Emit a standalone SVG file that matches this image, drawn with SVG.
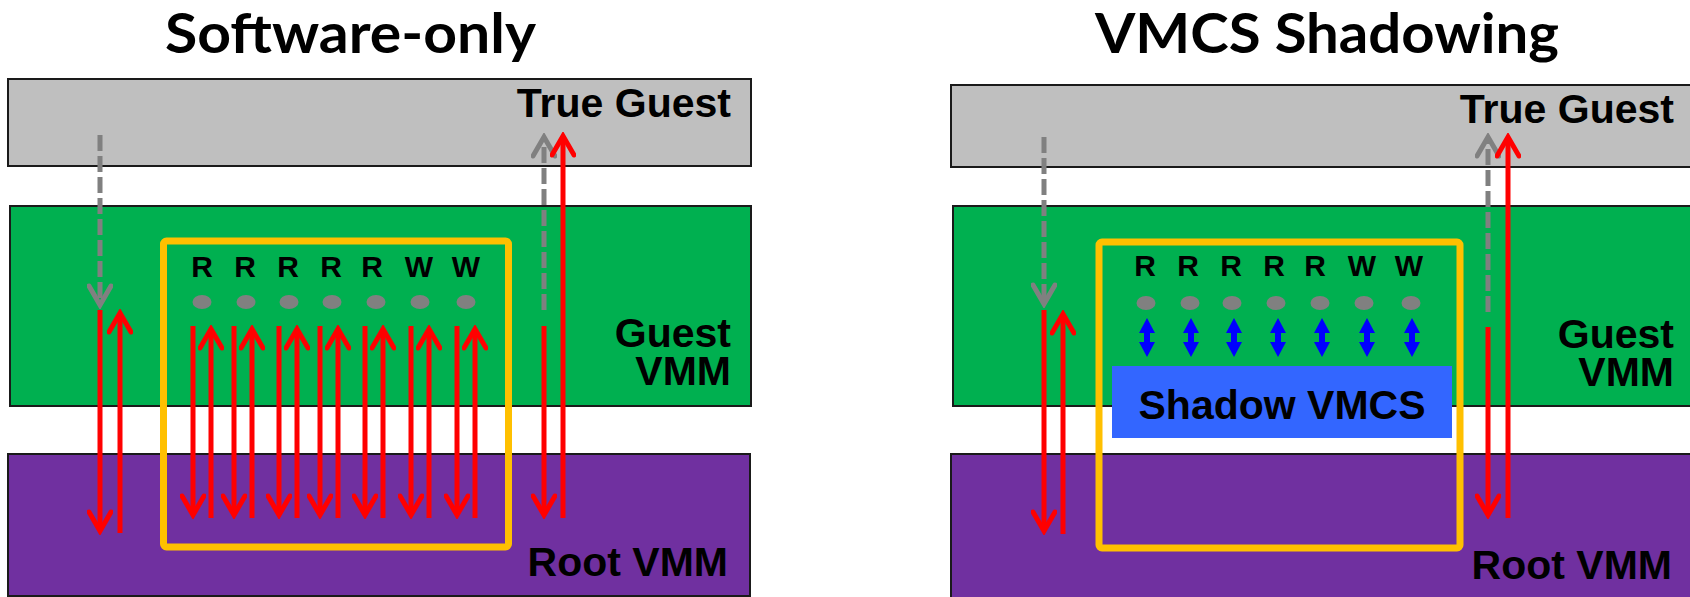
<svg xmlns="http://www.w3.org/2000/svg" width="1690" height="597" viewBox="0 0 1690 597">
<style>
.title{font-family:Lato,"Open Sans",sans-serif;font-weight:bold;font-size:55px;fill:#000}
.lbl{font-family:"Liberation Sans",Arial,sans-serif;font-weight:bold;font-size:41px;fill:#000}
.rw{font-family:"Liberation Sans",Arial,sans-serif;font-weight:bold;font-size:30px;fill:#000;text-anchor:middle}
.gray{fill:#BFBFBF;stroke:#1a1a1a;stroke-width:2}
.green{fill:#00B050;stroke:#1a1a1a;stroke-width:2}
.purple{fill:#7030A0;stroke:#1a1a1a;stroke-width:2}
.yel{fill:none;stroke:#FFC000;stroke-width:7}
.dot{fill:#808080}
.redh{stroke:#FF0000;stroke-width:5;fill:none;marker-end:url(#ar)}
.dash{stroke:#808080;stroke-width:5;fill:none;stroke-dasharray:16 5;marker-end:url(#ag)}
.blue{fill:#0000FF}
</style>
<defs>
<marker id="ar" markerUnits="userSpaceOnUse" viewBox="0 0 26 26" markerWidth="26" markerHeight="26" refX="22" refY="13" orient="auto">
<path d="M3,2 L22,13 L3,24" fill="none" stroke="#FF0000" stroke-width="5" stroke-linecap="round"/>
</marker>
<marker id="ag" markerUnits="userSpaceOnUse" viewBox="0 0 26 26" markerWidth="26" markerHeight="26" refX="22" refY="13" orient="auto">
<path d="M3,2 L22,13 L3,24" fill="none" stroke="#808080" stroke-width="5" stroke-linecap="round"/>
</marker>
<path id="dbl" d="M0,318 L-8,333 L-3,333 L-3,342 L-8,342 L0,357 L8,342 L3,342 L3,333 L8,333 Z"/>
</defs>

<g id="left-panel">
<text class="title" x="165" y="53" textLength="371" lengthAdjust="spacingAndGlyphs">Software-only</text>
<g id="left-true-guest">
<rect class="gray" x="8" y="79" width="743" height="87"/>
<text class="lbl" x="731" y="117" text-anchor="end">True Guest</text>
</g>
<g id="left-guest-vmm">
<rect class="green" x="10" y="206" width="741" height="200"/>
<text class="lbl" text-anchor="end"><tspan x="731" y="347">Guest</tspan><tspan x="731" y="385">VMM</tspan></text>
</g>
<g id="left-root-vmm">
<rect class="purple" x="8" y="454" width="742" height="142"/>
<text class="lbl" x="728" y="576" text-anchor="end">Root VMM</text>
</g>
<g id="left-exit-box">
<rect class="yel" x="163.5" y="241" width="345" height="306" rx="3"/>
<text class="rw" x="202" y="277">R</text>
<text class="rw" x="245" y="277">R</text>
<text class="rw" x="288" y="277">R</text>
<text class="rw" x="331" y="277">R</text>
<text class="rw" x="372" y="277">R</text>
<text class="rw" x="419" y="277">W</text>
<text class="rw" x="466" y="277">W</text>
<ellipse class="dot" cx="202" cy="302" rx="9.5" ry="7"/>
<ellipse class="dot" cx="246" cy="302" rx="9.5" ry="7"/>
<ellipse class="dot" cx="289" cy="302" rx="9.5" ry="7"/>
<ellipse class="dot" cx="332" cy="302" rx="9.5" ry="7"/>
<ellipse class="dot" cx="376" cy="302" rx="9.5" ry="7"/>
<ellipse class="dot" cx="420" cy="302" rx="9.5" ry="7"/>
<ellipse class="dot" cx="466" cy="302" rx="9.5" ry="7"/>
</g>
</g>

<g id="right-panel">
<text class="title" x="1095" y="53" textLength="464" lengthAdjust="spacingAndGlyphs">VMCS Shadowing</text>
<g id="right-true-guest">
<rect class="gray" x="951" y="85" width="760" height="82"/>
<text class="lbl" x="1674" y="123" text-anchor="end">True Guest</text>
</g>
<g id="right-guest-vmm">
<rect class="green" x="953" y="206" width="760" height="200"/>
<text class="lbl" text-anchor="end"><tspan x="1674" y="348">Guest</tspan><tspan x="1674" y="386">VMM</tspan></text>
</g>
<g id="right-root-vmm">
<rect class="purple" x="951" y="454" width="760" height="150"/>
<text class="lbl" x="1672" y="579" text-anchor="end">Root VMM</text>
</g>
<g id="right-exit-box">
<rect class="yel" x="1099" y="242" width="361" height="306" rx="3"/>
<text class="rw" x="1145" y="276">R</text>
<text class="rw" x="1188" y="276">R</text>
<text class="rw" x="1231" y="276">R</text>
<text class="rw" x="1274" y="276">R</text>
<text class="rw" x="1315" y="276">R</text>
<text class="rw" x="1362" y="276">W</text>
<text class="rw" x="1409" y="276">W</text>
<ellipse class="dot" cx="1146" cy="303" rx="9.5" ry="7"/>
<ellipse class="dot" cx="1190" cy="303" rx="9.5" ry="7"/>
<ellipse class="dot" cx="1232" cy="303" rx="9.5" ry="7"/>
<ellipse class="dot" cx="1276" cy="303" rx="9.5" ry="7"/>
<ellipse class="dot" cx="1320" cy="303" rx="9.5" ry="7"/>
<ellipse class="dot" cx="1364" cy="303" rx="9.5" ry="7"/>
<ellipse class="dot" cx="1411" cy="303" rx="9.5" ry="7"/>
</g>
<g id="shadow-vmcs">
<rect x="1112" y="366" width="340" height="72" fill="#3366FF"/>
<text class="lbl" x="1282" y="419" text-anchor="middle" font-size="42">Shadow VMCS</text>
</g>
</g>

<g id="connectors">
<line class="dash" x1="100" y1="135" x2="100" y2="305"/>
<line class="redh" x1="100" y1="310" x2="100" y2="531"/>
<line class="redh" x1="120" y1="533" x2="120" y2="313"/>
<line class="redh" x1="193" y1="326" x2="193" y2="515"/>
<line class="redh" x1="211" y1="518" x2="211" y2="329"/>
<line class="redh" x1="234" y1="326" x2="234" y2="515"/>
<line class="redh" x1="252" y1="518" x2="252" y2="329"/>
<line class="redh" x1="279" y1="326" x2="279" y2="515"/>
<line class="redh" x1="297" y1="518" x2="297" y2="329"/>
<line class="redh" x1="320" y1="326" x2="320" y2="515"/>
<line class="redh" x1="338" y1="518" x2="338" y2="329"/>
<line class="redh" x1="365" y1="326" x2="365" y2="515"/>
<line class="redh" x1="383" y1="518" x2="383" y2="329"/>
<line class="redh" x1="411" y1="326" x2="411" y2="515"/>
<line class="redh" x1="429" y1="518" x2="429" y2="329"/>
<line class="redh" x1="457" y1="326" x2="457" y2="515"/>
<line class="redh" x1="475" y1="518" x2="475" y2="329"/>
<line class="dash" x1="544" y1="310" x2="544" y2="137"/>
<line class="redh" x1="544" y1="326" x2="544" y2="515"/>
<line class="redh" x1="563" y1="518" x2="563" y2="136"/>
<line class="dash" x1="1044" y1="137" x2="1044" y2="304"/>
<line class="redh" x1="1044" y1="310" x2="1044" y2="531"/>
<line class="redh" x1="1063" y1="534" x2="1063" y2="314"/>
<use href="#dbl" x="1147" class="blue"/>
<use href="#dbl" x="1191" class="blue"/>
<use href="#dbl" x="1234" class="blue"/>
<use href="#dbl" x="1278" class="blue"/>
<use href="#dbl" x="1322" class="blue"/>
<use href="#dbl" x="1367" class="blue"/>
<use href="#dbl" x="1412" class="blue"/>
<line class="dash" x1="1488" y1="312" x2="1488" y2="137"/>
<line class="redh" x1="1488" y1="327" x2="1488" y2="515"/>
<line class="redh" x1="1508" y1="518" x2="1508" y2="137"/>
</g>
</svg>
